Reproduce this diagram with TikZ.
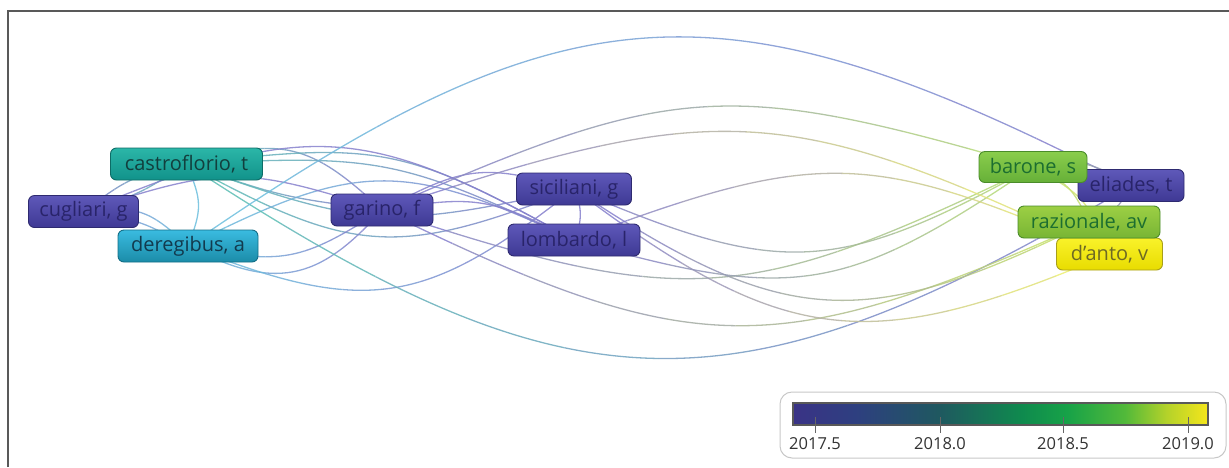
\documentclass[tikz,border=0pt]{standalone}
\usepackage{fontspec}
\setmainfont{Open Sans}
\usetikzlibrary{calc}
\pgfdeclarelayer{bg}
\pgfsetlayers{bg,main}
% node colours
\definecolor{pTop}{HTML}{5E58B9}
\definecolor{pBot}{HTML}{3E3994}
\definecolor{pBd}{HTML}{2E2A70}
\definecolor{pTx}{HTML}{29246A}
\definecolor{tTop}{HTML}{2BB6A8}
\definecolor{tBot}{HTML}{11928A}
\definecolor{tBd}{HTML}{0D6C66}
\definecolor{tTx}{HTML}{123F3D}
\definecolor{cTop}{HTML}{3ABBE0}
\definecolor{cBot}{HTML}{1B8CA8}
\definecolor{cBd}{HTML}{136E86}
\definecolor{cTx}{HTML}{123A4E}
\definecolor{gTop}{HTML}{8ACD4C}
\definecolor{gBot}{HTML}{66B038}
\definecolor{gBd}{HTML}{4A8C2A}
\definecolor{gTx}{HTML}{1C6E30}
\definecolor{lTop}{HTML}{9CCF44}
\definecolor{lBot}{HTML}{78B534}
\definecolor{yTop}{HTML}{F9F22A}
\definecolor{yBot}{HTML}{E8DC00}
\definecolor{yBd}{HTML}{A89F1A}
\definecolor{yTx}{HTML}{6E6A24}
% edge end colours
\definecolor{epur}{HTML}{8680CC}
\definecolor{eteal}{HTML}{5CBDB4}
\definecolor{ecyan}{HTML}{6CBEDD}
\definecolor{egrn}{HTML}{B4D87A}
\definecolor{elgr}{HTML}{C4DD6C}
\definecolor{eyel}{HTML}{ECEE70}
% colour bar
\definecolor{vA}{HTML}{3A3386}
\definecolor{vB}{HTML}{2E3F80}
\definecolor{vC}{HTML}{1F5860}
\definecolor{vD}{HTML}{0F8A4E}
\definecolor{vE}{HTML}{17A248}
\definecolor{vF}{HTML}{52B93A}
\definecolor{vG}{HTML}{B4D22A}
\definecolor{vH}{HTML}{F5E61B}
\pgfdeclarehorizontalshading{viridisbar}{100bp}{color(0bp)=(vA); color(25bp)=(vA); color(32.5bp)=(vB); color(42.5bp)=(vC); color(52.5bp)=(vD); color(58bp)=(vE); color(65bp)=(vF); color(70bp)=(vG); color(75bp)=(vH); color(100bp)=(vH)}
\newdimen\gxA
\newdimen\gxB
\newcommand\gedge[5]{%
  \pgfextractx{\gxA}{\pgfpointanchor{#1}{center}}%
  \pgfextractx{\gxB}{\pgfpointanchor{#2}{center}}%
  \foreach \k in {0,...,9}{%
    \pgfmathtruncatemacro\pct{100-\k*100/9}%
    \pgfmathsetmacro\lo{ifthenelse(\k==0,-3000,\gxA+(\gxB-\gxA)*\k/10)}%
    \pgfmathsetmacro\hi{ifthenelse(\k==9,4000,\gxA+(\gxB-\gxA)*(\k+1)/10)}%
    \begin{scope}
      \clip (\lo pt,-2000pt) rectangle (\hi pt,2000pt);
      \draw[lnk, draw=#4!\pct!#5] (#1.center) to[looseness=1.25,#3] (#2.center);
    \end{scope}}}
\tikzset{
  lnk/.style={line width=1.3pt, opacity=0.85},
  au/.style={draw, rounded corners=6pt, line width=0.9pt, minimum height=32pt, inner sep=0pt,
    font=\fontsize{20}{23}\selectfont},
  purp/.style={au, top color=pTop, bottom color=pBot, draw=pBd, text=pTx},
  teal/.style={au, top color=tTop, bottom color=tBot, draw=tBd, text=tTx},
  cyan/.style={au, top color=cTop, bottom color=cBot, draw=cBd, text=cTx},
  grn/.style={au, top color=gTop, bottom color=gBot, draw=gBd, text=gTx},
  lgr/.style={au, top color=lTop, bottom color=lBot, draw=gBd, text=gTx},
  yel/.style={au, top color=yTop, bottom color=yBot, draw=yBd, text=yTx},
  ticklbl/.style={font=\fontsize{16.5}{19}\selectfont, text=black!80, inner sep=0pt},
}
\begin{document}
\begin{tikzpicture}[x=1pt,y=-1pt]
\useasboundingbox (0,0) rectangle (1229,467);
% frame
\draw[line width=2pt, black!65] (7.5,467) -- (7.5,10.5) -- (1229,10.5);

% nodes
\node[purp, minimum width=110pt] (U) at (83.5,211.5) {cugliari, g};
\node[teal, minimum width=152pt] (C) at (186.5,164) {castroflorio, t};
\node[cyan, minimum width=140pt] (D) at (188,246) {deregibus, a};
\node[purp, minimum width=102pt] (G) at (382,210) {garino, f};
\node[purp, minimum width=115pt] (S) at (574,189) {siciliani, g};
\node[purp, minimum width=132pt] (L) at (574,240) {lombardo, l};
\node[purp, minimum width=106pt] (E) at (1131,185.5) {eliades, t};
\node[grn, minimum width=108pt, minimum height=31pt] (B) at (1033,167) {barone, s};
\node[yel, minimum width=106pt] (A) at (1109.5,254) {d'anto, v};
\node[lgr, minimum width=142pt] (R) at (1089,222) {razionale, av};

\begin{pgfonlayer}{bg}
% left cluster
\gedge{U}{C}{bend left=12}{epur}{eteal}
\gedge{U}{C}{bend right=8}{epur}{eteal}
\gedge{C}{D}{bend left=22}{eteal}{ecyan}
\gedge{U}{D}{bend left=25}{epur}{ecyan}
\gedge{U}{D}{bend left=10}{epur}{ecyan}
\gedge{C}{G}{bend left=30}{eteal}{epur}
\gedge{C}{G}{bend right=6}{eteal}{epur}
\gedge{C}{S}{bend right=25}{eteal}{epur}
\gedge{C}{S}{bend right=16}{eteal}{epur}
\gedge{C}{L}{bend left=14}{eteal}{epur}
\gedge{C}{L}{bend left=18}{eteal}{epur}
\gedge{D}{G}{bend right=38}{ecyan}{epur}
\gedge{D}{G}{bend right=22}{ecyan}{epur}
\gedge{D}{S}{bend right=30}{ecyan}{epur}
\gedge{D}{L}{bend left=26}{ecyan}{epur}
\gedge{U}{L}{bend left=26}{epur}{epur}
\gedge{U}{G}{bend left=18}{epur}{epur}
\gedge{G}{S}{bend left=22}{epur}{epur}
\gedge{G}{L}{bend left=18}{epur}{epur}
\draw[lnk, draw=epur] (S.center) to[bend left=25] (L.center);
% long edges
\gedge{C}{E}{bend right=32}{eteal}{epur}
\gedge{D}{E}{bend left=31}{ecyan}{epur}
\gedge{G}{B}{bend right=22}{epur}{egrn}
\gedge{G}{R}{bend right=25}{epur}{elgr}
\gedge{S}{B}{bend right=26}{epur}{egrn}
\gedge{S}{R}{bend right=30}{epur}{elgr}
\gedge{S}{A}{bend right=30}{epur}{eyel}
\gedge{L}{B}{bend right=25}{epur}{egrn}
\gedge{G}{A}{bend left=22}{epur}{eyel}
\gedge{L}{A}{bend left=22}{epur}{eyel}
\gedge{G}{B}{bend left=20}{epur}{egrn}
% right cluster
\gedge{B}{R}{bend left=20}{egrn}{elgr}
\gedge{B}{A}{bend left=20}{egrn}{eyel}
\gedge{R}{A}{bend left=20}{elgr}{eyel}
\gedge{B}{E}{bend left=20}{egrn}{epur}
\gedge{R}{E}{bend right=20}{elgr}{epur}
\end{pgfonlayer}

% colour bar
\draw[black!22, line width=1pt, rounded corners=12pt] (780,392) rectangle (1226,458);
\shade[shading=viridisbar] (793,403) rectangle (1208,425);
\draw[black!65, line width=1.3pt] (793,403) rectangle (1208,425);
\foreach \xx/\lab in {815/2017.5, 940/2018.0, 1063/2018.5, 1188/2019.0}{
  \draw[black!60, line width=1pt] (\xx,417) -- (\xx,433);
  \node[ticklbl] at (\xx,443.5) {\lab};
}
\end{tikzpicture}
\end{document}
